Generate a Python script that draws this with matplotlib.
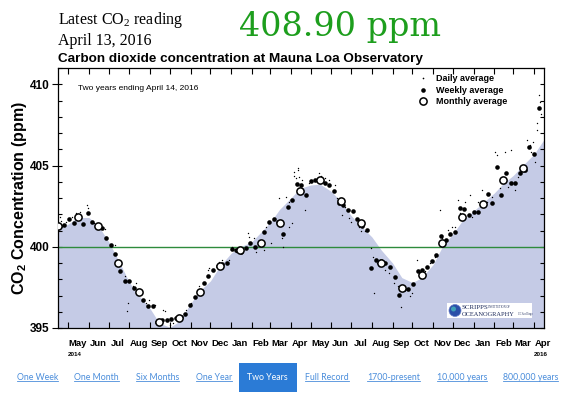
import numpy as np
import pandas as pd
import matplotlib
matplotlib.use("Agg")
import matplotlib.pyplot as plt
import matplotlib.dates as mdates
from matplotlib.patches import Rectangle, Ellipse
from matplotlib.lines import Line2D
from matplotlib.ticker import MultipleLocator, FixedLocator

# ---------------- data ----------------
record_start = "2014-04-15"

monthly_ppm = [401.28, 401.86, 401.28, 399.03, 397.19, 395.37, 395.60, 397.19,
               398.79, 399.81, 400.26, 401.49, 403.43, 404.11, 402.82, 401.49,
               399.00, 397.46, 398.27, 400.22, 401.86, 402.61, 404.11, 404.86]
monthly_first = "2014-04-01"

weekly_first = "2014-04-18"
weekly_ppm = [401.30, 401.34, 401.70, 401.45, 401.90, 401.40, 402.06, 401.55, 401.30, 401.14,
              400.53, 400.08, 399.55, 398.52, 397.90, 397.90, 397.45, 397.20, 396.74, 396.33,
              396.33, 395.40, 395.51, 395.51, 395.55, 395.60, 395.70, 395.88, 396.43, 396.88,
              397.20, 397.76, 398.17, 398.58, 398.80, 398.95, 399.00, 399.87, 399.81, 399.70,
              399.91, 400.22, 400.00, 400.30, 400.93, 401.55, 401.70, 401.50, 400.77, 402.47,
              402.90, 403.86, 403.80, 403.19, 404.05, 404.11, 404.10, 403.90, 403.80, 403.43,
              402.71, 402.57, 402.27, 402.20, 401.70, 401.28, 401.04, 398.72, 399.20, 399.10,
              399.00, 398.75, 398.13, 397.05, 397.42, 397.40, 397.70, 398.48, 398.58, 398.75,
              399.10, 399.50, 400.69, 400.42, 400.79, 400.89, 402.37, 402.31, 401.96, 402.16,
              402.16, 402.67, 403.24, 402.71, 404.93, 403.19, 404.52, 403.94, 403.94, 404.52,
              404.72, 406.11, 405.68, 408.55]

# daily averages (days after record_start, ppm) - scattered values visible
daily_day = [3, 5, 13, 21, 28, 33, 44, 46, 55, 58, 71, 73, 86, 93, 101, 106, 104, 113, 118, 133,
             138, 146, 159, 162, 169, 174, 186, 193, 201, 213, 218, 226, 228, 243, 248, 258, 263,
             268, 273, 286, 288, 296, 298, 311, 313, 318, 321, 333, 337, 339, 348, 356, 358, 361,
             343, 348, 353, 356, 362, 363, 368, 373, 378, 393, 396, 403, 408, 418, 421, 428, 433,
             438, 441, 453, 456, 463, 471, 475, 476, 481, 483, 493, 498, 506, 513, 517, 523, 531,
             533, 541, 546, 553, 561, 568, 576, 578, 588, 593, 598, 603, 606, 613, 621, 623, 633,
             638, 646, 653, 658, 661, 666, 668, 673, 678, 683, 689, 693, 706, 711, 713, 716, 718,
             721, 722, 724, 726, 727]
daily_ppm = [401.86, 401.61, 401.55, 401.86, 402.06, 402.16, 402.57, 402.37, 401.45, 401.14,
             401.08, 400.63, 400.08, 398.79, 398.17, 396.54, 396.02, 397.56, 397.76, 396.54,
             396.74, 396.43, 396.13, 396.02, 395.21, 395.31, 395.72, 396.13, 396.54, 397.56,
             397.35, 398.58, 398.68, 399.09, 399.20, 399.20, 400.01, 399.65, 399.71, 400.83,
             400.63, 400.53, 399.65, 399.81, 401.24, 401.45, 400.22, 402.98, 400.53, 400.01,
             402.78, 404.62, 404.21, 404.82,
             403.08, 401.24, 401.45, 404.35, 404.72, 404.31, 404.11, 402.27, 403.90, 404.52,
             404.35, 404.21, 404.11, 403.80, 402.98, 401.96, 402.47, 401.75, 401.55, 401.24,
             400.94, 400.94, 399.91, 399.40, 397.15, 398.99, 398.79, 398.58, 398.38, 397.76,
             397.56, 396.29, 397.56, 396.95, 397.15, 399.20, 398.07, 398.48, 398.99, 399.40,
             402.27, 400.53, 401.04, 401.24, 401.24, 402.88, 402.06, 402.78, 403.19, 401.86,
             402.78, 403.49, 402.78, 403.08, 405.85, 405.64, 403.60, 403.90, 405.85, 403.70,
             405.95, 403.49, 404.31, 406.56, 406.26, 405.85, 406.46, 405.23, 407.18, 407.59,
             409.32, 408.92, 408.20]

# smoothed seasonal curve (shaded area)
curve_dates = ["2014-04-15", "2014-05-01", "2014-05-15", "2014-06-01", "2014-06-15", "2014-07-01",
               "2014-07-15", "2014-08-01", "2014-08-15", "2014-09-01", "2014-09-15", "2014-10-01",
               "2014-10-15", "2014-11-01", "2014-11-15", "2014-12-01", "2014-12-15", "2015-01-01",
               "2015-01-15", "2015-02-01", "2015-02-15", "2015-03-01", "2015-03-15", "2015-04-01",
               "2015-04-15", "2015-05-01", "2015-05-15", "2015-06-01", "2015-06-15", "2015-07-01",
               "2015-07-15", "2015-08-01", "2015-08-15", "2015-09-01", "2015-09-15", "2015-10-01",
               "2015-10-15", "2015-11-01", "2015-11-15", "2015-12-01", "2015-12-15", "2016-01-01",
               "2016-01-15", "2016-02-01", "2016-02-15", "2016-03-01", "2016-03-15", "2016-04-01",
               "2016-04-16"]
curve_ppm = [401.1, 401.4, 401.8, 401.8, 401.3, 400.3, 399.2, 397.8, 397.0, 396.2, 395.3, 395.05,
             395.4, 396.5, 397.3, 397.9, 398.8, 399.6, 400.0, 400.3, 400.9, 401.5, 402.3, 403.0,
             403.6, 403.8, 403.85, 403.4, 402.8, 401.9, 401.3, 400.6, 399.8, 399.0, 398.1, 397.8,
             398.1, 398.9, 400.0, 400.8, 401.6, 402.2, 402.7, 403.3, 403.9, 404.4, 405.0, 405.7,
             406.6]

y_ticks = [395, 400, 405, 410]
nav_labels = ["One Week", "One Month", "Six Months", "One Year", "Two Years",
              "Full Record", "1700-present", "10,000 years", "800,000 years"]
nav_left = [17, 74, 136, 196, 247, 305, 367, 437, 503]
legend_labels = ["Daily average", "Weekly average", "Monthly average"]

# ---------------- figure ----------------
W, H = 568, 396
def fx(x): return x / W
def fy(y): return 1 - y / H

SANS = "Liberation Sans"
SERIF = "Liberation Serif"

fig = plt.figure(figsize=(W / 100, H / 100), dpi=100)
fig.patch.set_facecolor("white")
ax = fig.add_axes([fx(58), fy(328), (544 - 58) / W, (328 - 68) / H])

start = pd.Timestamp(record_start)
monthly_dates = pd.date_range(monthly_first, periods=len(monthly_ppm), freq="MS") + pd.Timedelta(days=14)
weekly_dates = pd.date_range(weekly_first, periods=len(weekly_ppm), freq="7D")
daily_dates = [start + pd.Timedelta(days=d) for d in daily_day]
cdates = pd.to_datetime(curve_dates)

ax.fill_between(cdates, 390, curve_ppm, color="#c5cbe6", lw=0, zorder=1)
ax.axhline(400, color="#2e8b3c", lw=1.0, zorder=2)
ax.plot(daily_dates, daily_ppm, ls="none", marker="o", ms=1.0, mfc="black", mec="black",
        mew=0, zorder=3)
ax.plot(weekly_dates, weekly_ppm, ls="none", marker="o", ms=3.3, mfc="black", mec="black",
        mew=0, zorder=4)
ax.plot(monthly_dates, monthly_ppm, ls="none", marker="o", ms=5.2, mfc="white", mec="black",
        mew=1.1, zorder=5)

ax.set_xlim(pd.Timestamp("2014-04-15 12:00"), pd.Timestamp("2016-04-16"))
ax.set_ylim(395, 411)

# x ticks
ax.xaxis.set_major_locator(mdates.MonthLocator())
ax.xaxis.set_major_formatter(plt.NullFormatter())
ax.xaxis.set_minor_locator(mdates.MonthLocator(bymonthday=15))
ax.xaxis.set_minor_formatter(mdates.DateFormatter("%b"))
ax.tick_params(axis="x", which="major", direction="in", length=4, width=0.8, top=True, bottom=True)
ax.tick_params(axis="x", which="minor", length=0, pad=8)
for lab in ax.xaxis.get_minorticklabels():
    lab.set_fontfamily(SANS)
    lab.set_fontweight("bold")
    lab.set_fontsize(6.8)

# y ticks
ax.yaxis.set_major_locator(FixedLocator(y_ticks))
ax.yaxis.set_minor_locator(MultipleLocator(1))
ax.yaxis.remove_overlapping_locs = False
ax.tick_params(axis="y", which="major", direction="out", length=4, width=0.8, left=True, right=False, pad=2)
ax.tick_params(axis="y", which="minor", direction="in", length=3, width=0.8, left=True, right=True)
for lab in ax.get_yticklabels():
    lab.set_fontfamily(SANS)
    lab.set_fontweight("bold")
    lab.set_fontsize(8.5)
for s in ax.spines.values():
    s.set_linewidth(0.9)

ax.set_ylabel("CO$_\\mathregular{2}$ Concentration (ppm)", fontfamily=SANS, fontweight="bold",
              fontsize=11.5, labelpad=1)

# year labels
fig.text(fx(75), fy(355), "2014", fontfamily=SANS, fontweight="bold", fontsize=4.5, ha="center", va="center")
fig.text(fx(541), fy(355), "2016", fontfamily=SANS, fontweight="bold", fontsize=4.5, ha="center", va="center")

# inner annotation
fig.text(fx(78), fy(88), "Two years ending April 14, 2016", fontfamily=SANS, fontsize=6,
         ha="left", va="center")

# legend
handles = [Line2D([], [], ls="none", marker="o", ms=1.2, mfc="black", mec="black", mew=0),
           Line2D([], [], ls="none", marker="o", ms=3.3, mfc="black", mec="black", mew=0),
           Line2D([], [], ls="none", marker="o", ms=5.2, mfc="white", mec="black", mew=1.1)]
leg = ax.legend(handles, legend_labels, loc="upper left", bbox_to_anchor=(fx(418), fy(74)),
                bbox_transform=fig.transFigure, frameon=False, handlelength=1.0,
                handletextpad=1.0, labelspacing=0.3, borderpad=0, borderaxespad=0,
                prop={"family": SANS, "weight": "bold", "size": 6.5})

# header
fig.text(fx(58), fy(24.3), "Latest CO$_\\mathregular{2}$ reading", fontfamily=SERIF, fontsize=11.5,
         ha="left", va="baseline")
fig.text(fx(58), fy(45), "April 13, 2016", fontfamily=SERIF, fontsize=11.5, ha="left", va="baseline")
fig.text(fx(239), fy(36), "408.90 ppm", fontfamily="DejaVu Serif", fontsize=24, color="#1d9e1d",
         ha="left", va="baseline")
fig.text(fx(58), fy(62), "Carbon dioxide concentration at Mauna Loa Observatory", fontfamily=SANS,
         fontweight="bold", fontsize=9.7, ha="left", va="baseline")

# Scripps logo box
fig.add_artist(Rectangle((fx(447), fy(318)), (532 - 447) / W, 15 / H, transform=fig.transFigure,
                         facecolor="white", edgecolor="none", zorder=6))
fig.add_artist(Ellipse((fx(455), fy(310.5)), 12 / W, 12 / H, transform=fig.transFigure,
                       facecolor="#2b4fa8", edgecolor="#6a7fc8", lw=0.5, zorder=7))
fig.add_artist(Ellipse((fx(453.5), fy(309)), 5 / W, 5 / H, transform=fig.transFigure,
                       facecolor="#3fa0b8", edgecolor="none", zorder=8))
fig.text(fx(462), fy(309), "SCRIPPS", fontfamily=SERIF, fontsize=5, color="#1c2a5a",
         ha="left", va="baseline", zorder=9)
fig.text(fx(488), fy(308.5), "INSTITUTION OF", fontfamily=SERIF, fontsize=2.0, color="#1c2a5a",
         ha="left", va="baseline", zorder=9)
fig.text(fx(462), fy(315.5), "OCEANOGRAPHY", fontfamily=SERIF, fontsize=4.6, color="#1c2a5a",
         ha="left", va="baseline", zorder=9)
fig.text(fx(518), fy(315.5), "UC San Diego", fontfamily=SERIF, fontsize=1.8, color="#1c2a5a",
         ha="left", va="baseline", zorder=9)

# nav bar
fig.add_artist(Rectangle((fx(239), fy(392)), (297 - 239) / W, (392 - 363) / H,
                         transform=fig.transFigure, facecolor="#2b7bd6", edgecolor="none"))
nav_texts = []
for lab, x0 in zip(nav_labels, nav_left):
    selected = lab == "Two Years"
    t = fig.text(fx(x0), fy(377), lab, fontfamily="Lato", fontsize=6.3,
                 color="white" if selected else "#4a8ddb", ha="left", va="center")
    nav_texts.append((t, selected))

fig.canvas.draw()
r = fig.canvas.get_renderer()
for t, selected in nav_texts:
    if selected:
        continue
    bb = t.get_window_extent(r)
    yline = bb.y0 + 0.5
    fig.add_artist(Line2D([bb.x0 / W, bb.x1 / W], [yline / H, yline / H], transform=fig.transFigure,
                          color="#4a8ddb", lw=0.6))

fig.savefig("out.png", dpi=100)
